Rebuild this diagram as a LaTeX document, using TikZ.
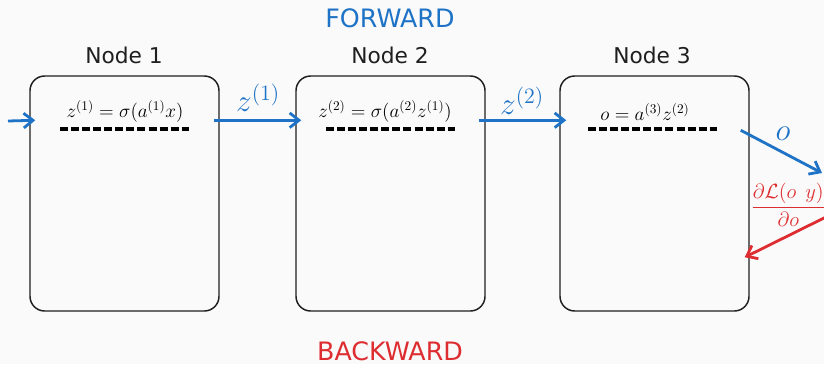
\RequirePackage{fix-cm}
\documentclass[tikz,border=0pt]{standalone}
\usepackage{fontspec}
\setsansfont{DejaVu Sans}
\usetikzlibrary{arrows.meta,calc}
\definecolor{fwd}{RGB}{30,115,198}
\definecolor{bwd}{RGB}{222,45,48}
\definecolor{bgc}{RGB}{250,250,250}
\begin{document}
\begin{tikzpicture}[x=0.75pt,y=-0.75pt,
  layerbox/.style={draw=black!88, line width=1.1pt, rounded corners=11pt,
    minimum width=141.75pt, minimum height=176.25pt, inner sep=0pt},
  title/.style={font=\sffamily\fontsize{16.3}{19}\selectfont, text=black!88, inner sep=0pt},
  phase/.style={font=\sffamily\fontsize{19}{22}\selectfont, inner sep=0pt},
  eqn/.style={font=\fontsize{14.4}{17}\selectfont, inner sep=0pt},
  biglbl/.style={font=\fontsize{23.5}{27}\selectfont, inner sep=0pt},
  sep/.style={line width=2.6pt, dash pattern=on 6pt off 2.3pt},
  fwdarrow/.style={draw=fwd, line width=2.1pt, -{Straight Barb[length=7pt,width=11pt]}},
  bwdarrow/.style={draw=bwd, line width=2.1pt, -{Straight Barb[length=7pt,width=11pt]}}]
\fill[bgc] (0,0) rectangle (824,364);
\useasboundingbox (0,0) rectangle (824,364);

% phase headings
\node[phase, text=fwd] (fw) at (390,18) {FORWARD};
\node[phase, text=bwd] (bw) at (390,351) {BACKWARD};

% the three computation nodes
\node[layerbox] (n1) at (124.5,193.5) {};
\node[layerbox] (n2) at (390.5,193.5) {};
\node[layerbox] (n3) at (654.5,193.5) {};

\node[title] (t1) at (124,55) {Node 1};
\node[title] (t2) at (390,55) {Node 2};
\node[title] (t3) at (652,55) {Node 3};

% equations and separators inside the nodes
\node[eqn] (e1) at (125,111) {$z^{(1)} = \sigma(a^{(1)}x)$};
\node[eqn] (e2) at (385,111) {$z^{(2)} = \sigma(a^{(2)}z^{(1)})$};
\node[eqn] (e3) at (645,112) {$o = a^{(3)}z^{(2)}$};
\coordinate (d1a) at (60,129);  \coordinate (d1b) at (189,129);
\coordinate (d2a) at (326,129); \coordinate (d2b) at (455,129);
\coordinate (d3a) at (588,129); \coordinate (d3b) at (717,129);
\draw[sep] (d1a) -- (d1b);
\draw[sep] (d2a) -- (d2b);
\draw[sep] (d3a) -- (d3b);

% forward pass
\coordinate (inp) at (8,121);
\draw[fwdarrow] (inp) -- ($(n1.north west)+(6,45)$);
\draw[fwdarrow] ($(n1.north east)+(-6,45)$) -- ($(n2.north west)+(6,45)$);
\draw[fwdarrow] ($(n2.north east)+(-7,45)$) -- ($(n3.north west)+(7,45)$);
\node[biglbl, text=fwd] (l1) at (258,98) {$z^{(1)}$};
\node[biglbl, text=fwd] (l2) at (522,101) {$z^{(2)}$};

\coordinate (oout) at (822,173);
\draw[fwdarrow] ($(n3.north east)+(-9,55)$) -- (oout);
\node[biglbl, text=fwd] (lo) at (783,134) {$o$};

% backward pass
\coordinate (gin) at (826,217);
\draw[bwdarrow] (gin) -- ($(n3.north east)+(-5,182)$);
\node[font=\fontsize{15.4}{18}\selectfont, text=bwd, inner sep=0pt, anchor=west] (lg) at (751,205)
  {$\displaystyle\frac{\partial\mathcal{L}(o\;\,y)}{\partial o}$};
\end{tikzpicture}
\end{document}
